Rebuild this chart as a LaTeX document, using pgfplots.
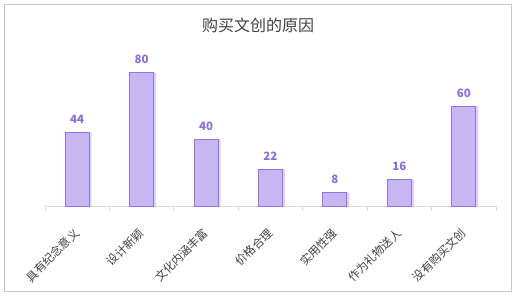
\documentclass[border=0pt]{standalone}
\usepackage{fontspec}
\setmainfont{Noto Sans CJK SC}
\usepackage{pgfplots}
\pgfplotsset{compat=1.18}
\definecolor{barfill}{HTML}{C6B6F2}
\definecolor{barline}{HTML}{9474E2}
\definecolor{shadowc}{HTML}{DCD2F7}
\definecolor{vallab}{HTML}{8C6CDE}
\definecolor{axisc}{HTML}{D9D9D9}
\definecolor{textc}{HTML}{404040}
\begin{document}
\begin{tikzpicture}[x=1pt,y=1pt]
\useasboundingbox (0,0) rectangle (516,297);
\draw[color=black!22, line width=1pt] (4,6) rectangle (511,292);
\node[font=\fontsize{16}{18}\selectfont, text=textc] at (258,272) {购买文创的原因};
\begin{axis}[
  at={(45pt,91pt)}, anchor=south west,
  scale only axis, width=451pt, height=150pt,
  ymin=0, ymax=90, xmin=-0.5, xmax=6.5,
  hide y axis,
  axis x line*=bottom,
  x axis line style={color=axisc, line width=0.8pt},
  xtick={0,...,6},
  xticklabels={具有纪念意义,设计新颖,文化内涵丰富,价格合理,实用性强,作为礼物送人,没有购买文创},
  major tick length=0pt,
  xticklabel style={font=\fontsize{11.5}{12}\selectfont, text=textc, inner sep=0pt, yshift=-21pt, xshift=-4pt, rotate=45, anchor=north east},
  extra x ticks={-0.5,0.5,1.5,2.5,3.5,4.5,5.5,6.5},
  extra x tick labels={},
  extra x tick style={major tick length=5pt, tick align=outside, tick style={color=axisc, line width=0.8pt}},
  /pgf/number format/assume math mode=true,
  clip=false,
]
\addplot[ybar, bar width=24pt, bar shift=2.5pt, fill=shadowc, draw=none]
  coordinates {(0,44) (1,80) (2,40) (3,22) (4,8) (5,16) (6,60)};
\addplot[ybar, bar width=24pt, bar shift=0pt, fill=barfill, draw=barline, line width=1pt,
  nodes near coords,
  every node near coord/.append style={font=\fontsize{11.5}{12}\selectfont\bfseries, text=vallab, yshift=5pt}]
  coordinates {(0,44) (1,80) (2,40) (3,22) (4,8) (5,16) (6,60)};
\end{axis}
\end{tikzpicture}
\end{document}
